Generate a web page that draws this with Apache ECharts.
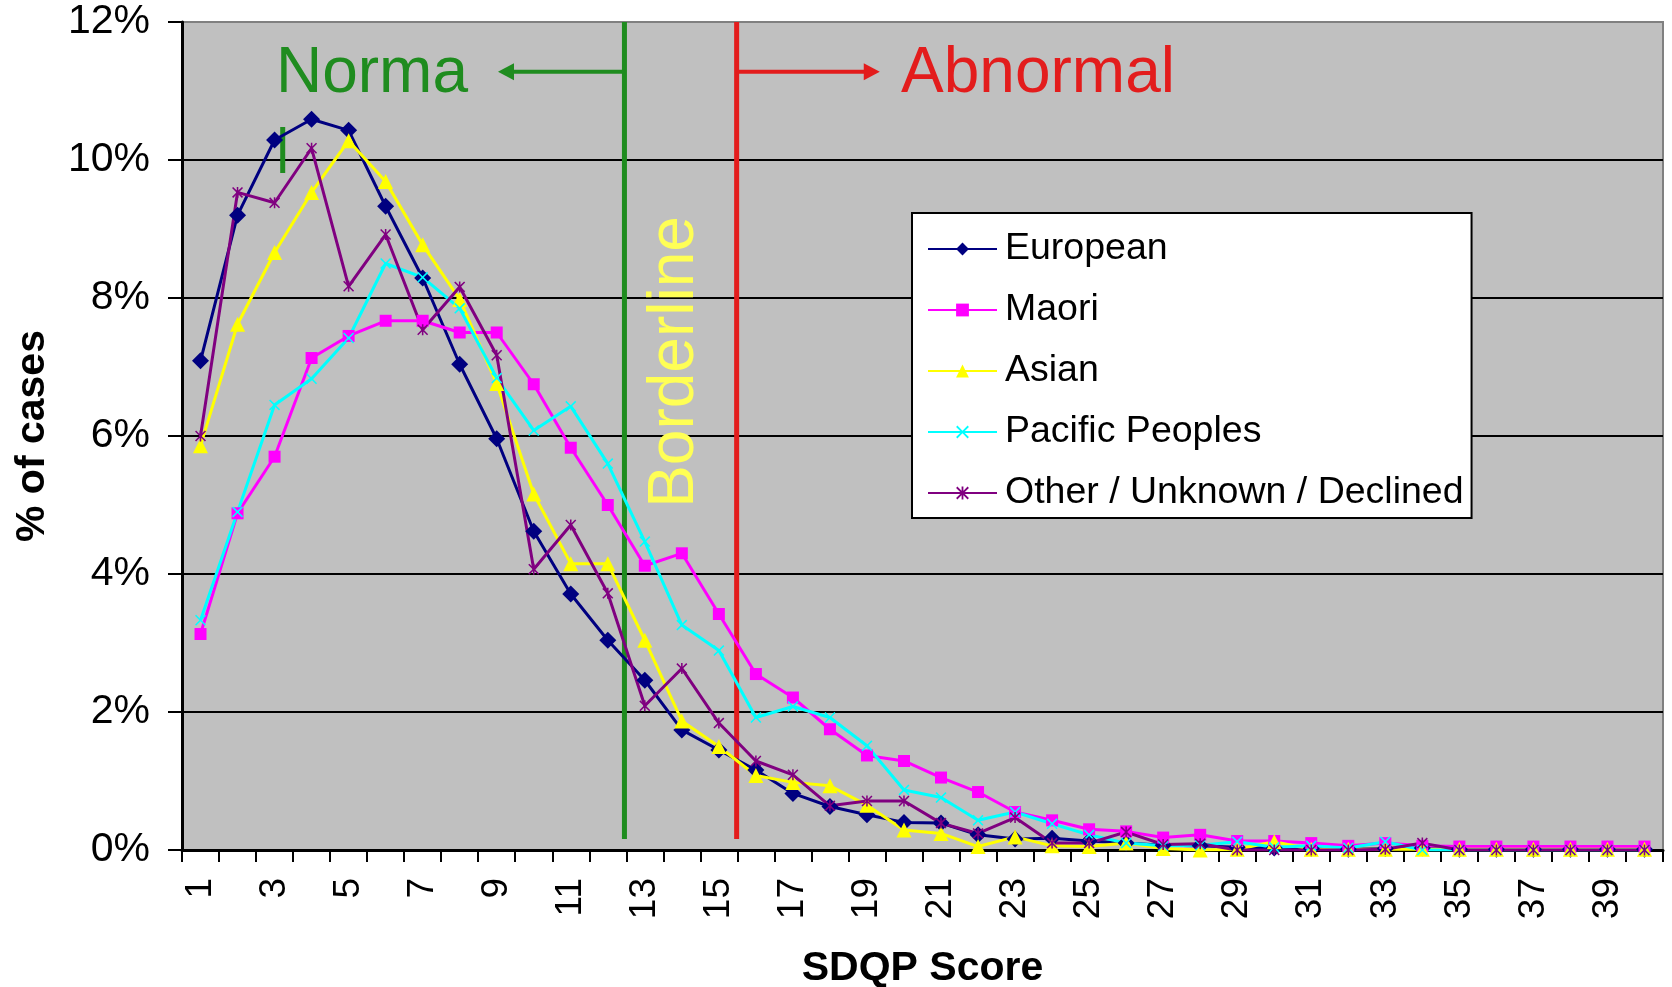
<!DOCTYPE html>
<html>
<head>
<meta charset="utf-8">
<title>SDQP Score distribution</title>
<script src="https://cdn.jsdelivr.net/npm/echarts@6/dist/echarts.min.js"></script>
<style>
    html, body {margin: 0; padding: 0; background: #fff;}
    #chart {width: 1672px; height: 987px;}
</style>
</head>
<body>
<div id="chart"></div>
<script>
const FONT = '"Liberation Sans", Arial, Helvetica, sans-serif';

const scores = ['1', '2', '3', '4', '5', '6', '7', '8', '9', '10',
    '11', '12', '13', '14', '15', '16', '17', '18', '19', '20',
    '21', '22', '23', '24', '25', '26', '27', '28', '29', '30',
    '31', '32', '33', '34', '35', '36', '37', '38', '39', '40'];

// % of cases per score
const european = [7.09, 9.20, 10.29, 10.59, 10.43, 9.33, 8.29, 7.04, 5.96, 4.62,
    3.71, 3.04, 2.46, 1.74, 1.45, 1.16, 0.82, 0.63, 0.51, 0.40,
    0.39, 0.22, 0.16, 0.17, 0.13, 0.10, 0.07, 0.06, 0.04, 0.03,
    0.02, 0.01, 0.02, 0.03, 0.01, 0.01, 0.01, 0.01, 0.01, 0.01];
const maori = [3.13, 4.88, 5.70, 7.13, 7.45, 7.67, 7.67, 7.50, 7.50, 6.75,
    5.83, 5.00, 4.12, 4.30, 3.42, 2.55, 2.21, 1.75, 1.37, 1.29,
    1.05, 0.84, 0.55, 0.43, 0.30, 0.27, 0.18, 0.22, 0.13, 0.13,
    0.10, 0.06, 0.10, 0.06, 0.05, 0.05, 0.05, 0.05, 0.05, 0.05];
const asian = [5.86, 7.62, 8.66, 9.53, 10.28, 9.69, 8.77, 7.98, 6.76, 5.16,
    4.15, 4.15, 3.04, 1.87, 1.50, 1.08, 0.98, 0.93, 0.65, 0.29,
    0.24, 0.05, 0.19, 0.06, 0.05, 0.10, 0.02, 0.00, 0.01, 0.12,
    0.01, 0.01, 0.01, 0.01, 0.01, 0.01, 0.01, 0.01, 0.01, 0.01];
const pacific = [3.33, 4.90, 6.45, 6.83, 7.42, 8.50, 8.30, 7.85, 6.84, 6.08,
    6.43, 5.60, 4.47, 3.26, 2.89, 1.92, 2.08, 1.92, 1.51, 0.87,
    0.76, 0.43, 0.55, 0.38, 0.22, 0.10, 0.06, 0.07, 0.12, 0.04,
    0.06, 0.03, 0.12, 0.00, 0.00, 0.00, 0.00, 0.00, 0.00, 0.00];
const other = [6.00, 9.53, 9.38, 10.17, 8.17, 8.92, 7.54, 8.16, 7.17, 4.07,
    4.71, 3.72, 2.09, 2.63, 1.84, 1.29, 1.09, 0.64, 0.71, 0.71,
    0.39, 0.24, 0.47, 0.10, 0.10, 0.26, 0.08, 0.09, 0.00, 0.00,
    0.00, 0.00, 0.01, 0.10, 0.00, 0.00, 0.00, 0.00, 0.00, 0.00];

// cut-offs and arrows, in score units (hidden value axis 0.5..40.5)
const borderlineCut = [[12.45, 12], [12.45, 0.16]];
const abnormalCut = [[15.48, 12], [15.48, 0.16]];
const normalArrow = [[12.45, 11.28], [9.25, 11.28]];
const abnormalArrow = [[15.48, 11.28], [19.13, 11.28]];
const strayTick = [[3.22, 10.48], [3.22, 9.81]];

const GREEN = '#1f8c1f';
const RED = '#e31c1c';

const xMark = 'path://M0,1L1,0L5,4L9,0L10,1L6,5L10,9L9,10L5,6L1,10L0,9L4,5Z';
const starMark = 'path://M0,1L1,0L5,4L9,0L10,1L6,5L10,9L9,10L5,6L1,10L0,9L4,5Z M4.3,0L5.7,0L5.7,10L4.3,10Z';

function lineSeries(name, data, color, symbol, size) {
    return {
        name: name,
        type: 'line',
        data: data,
        symbol: symbol,
        symbolSize: size,
        showAllSymbol: true,
        lineStyle: {color: color, width: 3},
        itemStyle: {color: color},
        emphasis: {disabled: true},
        z: 3
    };
}

function annotation(name, data, color, width, arrowRotate) {
    let points = data.map((p, i) => {
        if (arrowRotate !== undefined && i === data.length - 1) {
            return {value: p, symbol: 'triangle', symbolSize: [17, 16], symbolRotate: arrowRotate};
        }
        return {value: p, symbol: 'none'};
    });
    return {
        name: name,
        type: 'line',
        xAxisIndex: 1,
        data: points,
        lineStyle: {color: color, width: width},
        itemStyle: {color: color},
        emphasis: {disabled: true},
        silent: true,
        z: 2
    };
}

const chart = echarts.init(document.getElementById('chart'));

chart.setOption({
    animation: false,
    textStyle: {fontFamily: FONT},
    grid: {
        left: 182, right: 9, top: 22, bottom: 137,
        outerBoundsMode: 'none',
        containLabel: false,
        show: true,
        backgroundColor: '#c0c0c0',
        borderColor: '#808080',
        borderWidth: 2
    },
    legend: {
        data: ['European', 'Maori', 'Asian', 'Pacific Peoples', 'Other / Unknown / Declined'],
        orient: 'vertical',
        left: 912,
        top: 213,
        padding: [17, 8, 6, 15],
        itemWidth: 69,
        itemHeight: 16,
        itemGap: 23,
        backgroundColor: '#fff',
        borderColor: '#000',
        borderWidth: 2,
        selectedMode: false,
        textStyle: {fontSize: 37.5, color: '#000', fontFamily: FONT, padding: [0, 0, 0, 3]}
    },
    xAxis: [{
        type: 'category',
        data: scores,
        boundaryGap: true,
        name: 'SDQP Score',
        nameLocation: 'middle',
        nameGap: 98,
        nameTextStyle: {fontSize: 41, fontWeight: 'bold', color: '#000', fontFamily: FONT},
        axisLine: {lineStyle: {color: '#000', width: 3}},
        axisTick: {show: true, interval: 0, length: 12, lineStyle: {color: '#000', width: 2}},
        axisLabel: {interval: 1, rotate: 90, fontSize: 37, color: '#000', margin: 28, fontFamily: FONT},
        splitLine: {show: false}
    }, {
        type: 'value',
        min: 0.5,
        max: 40.5,
        show: false
    }],
    yAxis: {
        type: 'value',
        min: 0,
        max: 12,
        interval: 2,
        name: '% of cases',
        nameLocation: 'middle',
        nameRotate: 90,
        nameGap: 129,
        nameTextStyle: {fontSize: 41, fontWeight: 'bold', color: '#000', fontFamily: FONT},
        axisLine: {show: true, lineStyle: {color: '#000', width: 3}},
        axisTick: {show: true, length: 14, lineStyle: {color: '#000', width: 2}},
        axisLabel: {formatter: '{value}%', fontSize: 41, color: '#000', margin: 32, fontFamily: FONT},
        splitLine: {show: true, showMaxLine: false, lineStyle: {color: '#000', width: 2}}
    },
    series: [
        annotation('borderline cut', borderlineCut, GREEN, 5),
        annotation('abnormal cut', abnormalCut, RED, 5),
        annotation('normal arrow', normalArrow, GREEN, 4, 90),
        annotation('abnormal arrow', abnormalArrow, RED, 4, -90),
        annotation('stray tick', strayTick, GREEN, 5),
        lineSeries('European', european, '#000080', 'diamond', 17),
        lineSeries('Maori', maori, '#ff00ff', 'rect', 12),
        lineSeries('Asian', asian, '#ffff00', 'triangle', 15),
        lineSeries('Pacific Peoples', pacific, '#00ffff', xMark, 11),
        lineSeries('Other / Unknown / Declined', other, '#800080', starMark, 11)
    ],
    graphic: [{
        type: 'text', x: 372, y: 74, z: 10,
        style: {text: 'Norma', fill: GREEN, fontSize: 64, fontFamily: FONT, align: 'center', verticalAlign: 'middle'}
    }, {
        type: 'text', x: 1038, y: 74, z: 10,
        style: {text: 'Abnormal', fill: RED, fontSize: 64, fontFamily: FONT, align: 'center', verticalAlign: 'middle'}
    }, {
        type: 'text', x: 675, y: 362, rotation: Math.PI / 2, z: 1,
        style: {text: 'Borderline', fill: '#ffff55', fontSize: 64, fontFamily: FONT, align: 'center', verticalAlign: 'middle'}
    }]
});
</script>
</body>
</html>
